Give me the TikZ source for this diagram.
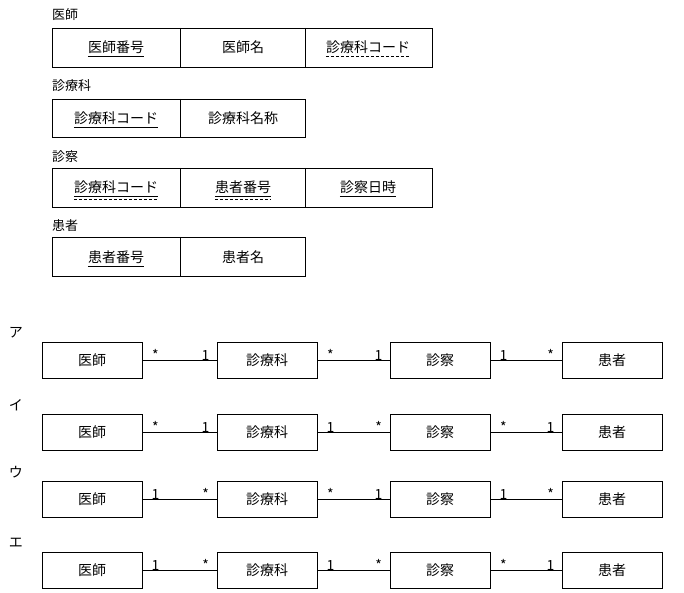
\documentclass[tikz,border=0pt]{standalone}
\usepackage{fontspec}
\setmainfont{Noto Sans CJK JP}
\begin{document}
\begin{tikzpicture}[x=1pt,y=-1pt,
  tb/.style={draw,line width=0.9pt},
  cell/.style={font=\fontsize{14}{14}\selectfont,inner sep=0pt},
  ttl/.style={font=\fontsize{13}{13}\selectfont,anchor=west,inner sep=0pt},
  ent/.style={draw,line width=0.9pt,minimum width=100pt,minimum height=36pt,font=\fontsize{14}{14}\selectfont},
  lab/.style={font=\fontsize{14}{14}\selectfont,inner sep=0pt},
  mk/.style={font=\fontsize{14}{14}\selectfont,inner sep=0pt,anchor=south},
  ul/.style={line width=0.9pt},
  dl/.style={line width=0.9pt,dash pattern=on 3pt off 2pt}]
\useasboundingbox (0,0) rectangle (684,593);
% tables
\node[ttl] (t1) at (52,15) {医師};
\draw[tb] (52,28) rectangle (432,67); \draw[tb] (180,28)--(180,67) (305,28)--(305,67);
\node[cell] (a1) at (116,47) {医師番号}; \node[cell] (a2) at (243,47) {医師名}; \node[cell] (a3) at (368,47) {診療科コード};
\draw[ul] (a1.south west)++(0,3)--++(56,0);
\draw[dl] (a3.south west)++(0,3)--++(84,0);
\node[ttl] (t2) at (52,86) {診療科};
\draw[tb] (52,99) rectangle (305,137); \draw[tb] (180,99)--(180,137);
\node[cell] (b1) at (116,118) {診療科コード}; \node[cell] (b2) at (243,118) {診療科名称};
\draw[ul] (b1.south west)++(0,3)--++(84,0);
\node[ttl] (t3) at (52,157) {診察};
\draw[tb] (52,168) rectangle (432,207); \draw[tb] (180,168)--(180,207) (305,168)--(305,207);
\node[cell] (c1) at (116,187) {診療科コード}; \node[cell] (c2) at (243,187) {患者番号}; \node[cell] (c3) at (368,187) {診察日時};
\draw[ul] (c1.south west)++(0,3)--++(84,0); \draw[dl] (c1.south west)++(0,6)--++(84,0);
\draw[ul] (c2.south west)++(0,3)--++(56,0); \draw[dl] (c2.south west)++(0,6)--++(56,0);
\draw[ul] (c3.south west)++(0,3)--++(56,0);
\node[ttl] (t4) at (52,226) {患者};
\draw[tb] (52,237) rectangle (305,276); \draw[tb] (180,237)--(180,276);
\node[cell] (d1) at (116,257) {患者番号}; \node[cell] (d2) at (243,257) {患者名};
\draw[ul] (d1.south west)++(0,3)--++(56,0);
% rows
\foreach \r/\y/\k/\la/\lb/\lc/\ld/\le/\lf in {1/360/ア/*/1/*/1/1/*, 2/432/イ/*/1/1/*/*/1, 3/499/ウ/1/*/*/1/1/*, 4/570/エ/1/*/1/*/*/1}{
  \node[lab] (k\r) at (16,\y-27) {\k};
  \node[ent] (e1\r) at (92,\y) {医師};
  \node[ent] (e2\r) at (267,\y) {診療科};
  \node[ent] (e3\r) at (440,\y) {診察};
  \node[ent] (e4\r) at (612,\y) {患者};
  \draw[line width=0.8pt] (e1\r)--(e2\r) (e2\r)--(e3\r) (e3\r)--(e4\r);
  \node[mk] (m1\r) at ([xshift=13pt,yshift=-1pt]e1\r.east) {\la};
  \node[mk] (m2\r) at ([xshift=-11pt,yshift=-1pt]e2\r.west) {\lb};
  \node[mk] (m3\r) at ([xshift=13pt,yshift=-1pt]e2\r.east) {\lc};
  \node[mk] (m4\r) at ([xshift=-11pt,yshift=-1pt]e3\r.west) {\ld};
  \node[mk] (m5\r) at ([xshift=13pt,yshift=-1pt]e3\r.east) {\le};
  \node[mk] (m6\r) at ([xshift=-11pt,yshift=-1pt]e4\r.west) {\lf};
}
\end{tikzpicture}
\end{document}
